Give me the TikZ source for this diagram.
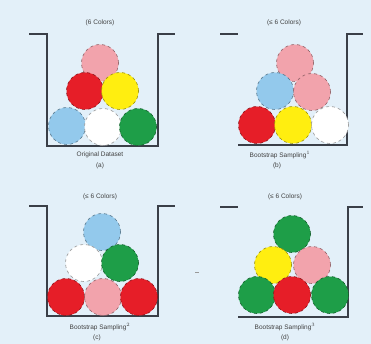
\documentclass[tikz,border=0pt]{standalone}
\usepackage{tikz}
\usepackage{fontspec}
\setmainfont{Liberation Sans}
\definecolor{bg}{HTML}{E3F0F9}
\definecolor{bpink}{HTML}{F2A3AC}
\definecolor{bred}{HTML}{E61E28}
\definecolor{byellow}{HTML}{FFEE10}
\definecolor{bblue}{HTML}{93C9EC}
\definecolor{bwhite}{HTML}{FFFFFF}
\definecolor{bgreen}{HTML}{1E9E48}
\definecolor{frame}{HTML}{3A3F48}
\begin{document}
\begin{tikzpicture}[x=1pt,y=-1pt,
  ball/.style={circle,minimum size=37pt,inner sep=0pt,draw=#1!60!black,dashed,line width=0.6pt,fill=#1},
  box/.style={draw=frame,line width=1.3pt},
  lbl/.style={font=\fontsize{6.5}{7.5}\selectfont,text=black!75,inner sep=0pt}]
\fill[bg] (0,0) rectangle (371,344);
\useasboundingbox (0,0) rectangle (371,344);
% panel a
\draw[box] (29,34) -- (47,34) -- (47,146) -- (158,146) -- (158,34) -- (175,34);
\node[ball=bpink] (a1) at (100,63) {};
\node[ball=bred] (a2) at (85,91) {};
\node[ball=byellow] (a3) at (120,91) {};
\node[ball=bblue] (a4) at (67,126) {};
\node[ball=bwhite] (a5) at (103,127) {};
\node[ball=bgreen] (a6) at (138,127) {};
\node[lbl] (ta) at (100,23) {(6 Colors)};
\node[lbl] (la) at (100,155) {Original Dataset};
\node[lbl] (ca) at (100,166) {(a)};
% panel b
\draw[box] (220,34) -- (238,34);
\draw[box] (238,145) -- (347,145) -- (347,34) -- (363,34);
\node[ball=bpink] (b1) at (295,63) {};
\node[ball=bblue] (b2) at (275,91) {};
\node[ball=bpink] (b3) at (312,92) {};
\node[ball=bred] (b4) at (257,125) {};
\node[ball=byellow] (b5) at (293,125) {};
\node[ball=bwhite] (b6) at (330,125) {};
\node[lbl] (tb) at (284,23) {(≤ 6 Colors)};
\node[lbl] (lb) at (280,155) {Bootstrap Sampling$^1$};
\node[lbl] (cb) at (277,166) {(b)};
% panel c
\draw[box] (29,206) -- (47,206) -- (47,316) -- (158,316) -- (158,206) -- (175,206);
\node[ball=bblue] (c1) at (102,232) {};
\node[ball=bwhite] (c2) at (84,263) {};
\node[ball=bgreen] (c3) at (120,263) {};
\node[ball=bred] (c4) at (66,297) {};
\node[ball=bpink] (c5) at (103,297) {};
\node[ball=bred] (c6) at (139,297) {};
\node[lbl] (tc) at (100,197) {(≤ 6 Colors)};
\node[lbl] (lc) at (100,327) {Bootstrap Sampling$^2$};
\node[lbl] (cc) at (97,338) {(c)};
% panel d
\draw[box] (220,207) -- (238,207);
\draw[box] (238,317) -- (348,317) -- (348,207) -- (363,207);
\node[ball=bgreen] (d1) at (292,234) {};
\node[ball=byellow] (d2) at (273,265) {};
\node[ball=bpink] (d3) at (312,265) {};
\node[ball=bgreen] (d4) at (257,295) {};
\node[ball=bred] (d5) at (292,295) {};
\node[ball=bgreen] (d6) at (330,295) {};
\node[lbl] (td) at (285,197) {(≤ 6 Colors)};
\node[lbl] (ld) at (285,327) {Bootstrap Sampling$^3$};
\node[lbl] (cd) at (285,338) {(d)};
\draw[black!40,line width=0.6pt] (195,272) -- (199,272);
\end{tikzpicture}
\end{document}
